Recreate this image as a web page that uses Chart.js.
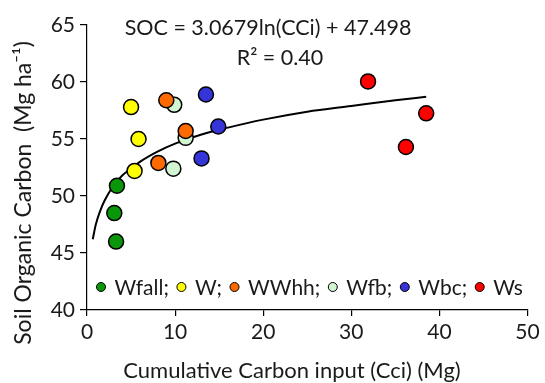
<!DOCTYPE html>
<html>
<head>
<meta charset="utf-8">
<script src="https://cdn.jsdelivr.net/npm/chart.js@4.4.0/dist/chart.umd.min.js"></script>
<style>
body{margin:0;background:#fff;}
canvas{display:block;}
</style>
</head>
<body>
<canvas id="socChart" width="545" height="383"></canvas>
<script>
// group names as in the legend
const groups = ['Wfall;', 'W;', 'WWhh;', 'Wfb;', 'Wbc;', 'Ws'];
const groupColors = ['#0a960a', '#ffff00', '#ff6a00', '#d2f5d2', '#3434d8', '#ff0000'];

// cumulative carbon input (Mg) and SOC (Mg ha-1) per group
const cciWfall = [3.4, 3.1, 3.3];
const socWfall = [50.9, 48.5, 46.0];
const cciW = [5.0, 5.85, 5.4];
const socW = [57.8, 55.0, 52.2];
const cciWWhh = [9.0, 11.2, 8.1];
const socWWhh = [58.4, 55.7, 52.9];
const cciWfb = [9.9, 11.2, 9.8];
const socWfb = [58.0, 55.1, 52.4];
const cciWbc = [13.5, 14.9, 13.0];
const socWbc = [58.9, 56.1, 53.3];
const cciWs = [31.9, 38.5, 36.2];
const socWs = [60.05, 57.25, 54.3];

// log trend line
const trendX = [0.65, 1, 1.5, 2, 3, 4, 5, 6, 8, 10, 13, 16, 20, 25, 30, 35, 38.5];
const trendY = [46.2, 47.5, 48.7, 49.6, 50.9, 51.8, 52.4, 53.0, 53.9, 54.6, 55.4, 56.0, 56.7, 57.4, 57.9, 58.4, 58.7];

const xTicks = [0, 10, 20, 30, 40, 50];
const yTicks = [40, 45, 50, 55, 60, 65];

const eqText = 'SOC = 3.0679ln(CCi) + 47.498';
const r2Text = 'R\u00b2 = 0.40';
const xTitle = 'Cumulative Carbon input (Cci) (Mg)';
const yTitle = 'Soil Organic Carbon  (Mg ha\u207b\u00b9)';

const FONT = 'Lato, "Open Sans", sans-serif';
const TXT = '#1a1a1a';

const allX = [cciWfall, cciW, cciWWhh, cciWfb, cciWbc, cciWs];
const allY = [socWfall, socW, socWWhh, socWfb, socWbc, socWs];

let datasets = groups.map((g, i) => ({
  label: g,
  data: allX[i].map((x, j) => ({x: x, y: allY[i][j]})),
  backgroundColor: groupColors[i],
  borderColor: '#000',
  borderWidth: 1.5,
  pointRadius: 7.5,
  showLine: false
}));

datasets.push({
  label: 'trend',
  data: trendX.map((x, j) => ({x: x, y: trendY[j]})),
  borderColor: '#000',
  borderWidth: 2,
  pointRadius: 0,
  showLine: true,
  cubicInterpolationMode: 'monotone'
});

// equation, axis titles and the in-plot legend
const textPlugin = {
  id: 'texts',
  afterDraw(chart) {
    const ctx = chart.ctx;
    ctx.save();
    ctx.fillStyle = TXT;
    ctx.textAlign = 'center';
    ctx.textBaseline = 'middle';
    ctx.font = '21.5px ' + FONT;
    ctx.fillText(eqText, 268, 28);
    ctx.fillText(r2Text, 280, 58);
    ctx.font = '22px ' + FONT;
    ctx.fillText(xTitle, 292, 371);

    ctx.save();
    ctx.translate(24, 193);
    ctx.rotate(-Math.PI / 2);
    ctx.font = '23px ' + FONT;
    ctx.fillText(yTitle, 0, 0);
    ctx.restore();

    // legend
    let lx = 101;
    const ly = 287;
    ctx.textAlign = 'left';
    ctx.font = '21px ' + FONT;
    groups.forEach((g, i) => {
      ctx.beginPath();
      ctx.arc(lx, ly, 4.5, 0, Math.PI * 2);
      ctx.fillStyle = groupColors[i];
      ctx.fill();
      ctx.lineWidth = 1;
      ctx.strokeStyle = '#000';
      ctx.stroke();
      ctx.fillStyle = TXT;
      ctx.fillText(g, lx + 13.5, ly + 1);
      lx += 13.5 + ctx.measureText(g).width + 12.5;
    });
    ctx.restore();
  }
};

new Chart(document.getElementById('socChart'), {
  type: 'scatter',
  data: {datasets: datasets},
  options: {
    responsive: false,
    animation: false,
    devicePixelRatio: 1,
    layout: {padding: {left: 0, top: 25, right: 17.5, bottom: 0}},
    plugins: {
      legend: {display: false},
      tooltip: {enabled: false}
    },
    scales: {
      x: {
        type: 'linear',
        min: 0,
        max: 50,
        afterBuildTicks: s => { s.ticks = xTicks.map(v => ({value: v})); },
        afterFit: s => { s.height = 73; },
        ticks: {font: {size: 21, family: FONT}, color: TXT, padding: 4},
        grid: {display: true, drawOnChartArea: false, drawTicks: true, tickLength: 6, color: '#000', lineWidth: 1.2},
        border: {display: true, color: '#000', width: 1.2}
      },
      y: {
        min: 40,
        max: 65,
        afterBuildTicks: s => { s.ticks = yTicks.map(v => ({value: v})); },
        afterFit: s => { s.width = 87; },
        ticks: {font: {size: 21, family: FONT}, color: TXT, padding: 5},
        grid: {display: true, drawOnChartArea: false, drawTicks: true, tickLength: 7, color: '#000', lineWidth: 1.2},
        border: {display: true, color: '#000', width: 1.2}
      }
    }
  },
  plugins: [textPlugin]
});
</script>
</body>
</html>
